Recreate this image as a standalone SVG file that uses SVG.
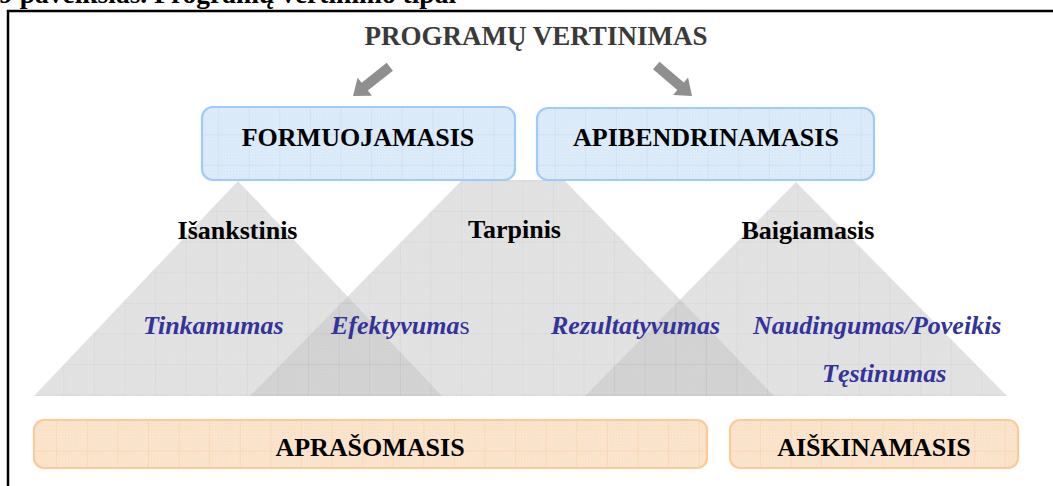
<svg xmlns="http://www.w3.org/2000/svg" width="1053" height="486" viewBox="0 0 1053 486">
  <defs>
    <style>
      .caption { font: bold 27.5px "Liberation Serif", "Times New Roman", serif; fill: #000; }
      .title { font: bold 27px "Liberation Serif", "Times New Roman", serif; fill: #3a3a3a; text-anchor: middle; }
      .label { font: bold 26px "Liberation Serif", "Times New Roman", serif; fill: #000; text-anchor: middle; }
      .crit { font: italic bold 26px "Liberation Serif", "Times New Roman", serif; fill: #333399; }
      .blue { fill: url(#gridBlue); stroke: #9fcbf6; stroke-width: 2.2; }
      .orange { fill: url(#gridOrange); stroke: #fdc996; stroke-width: 2.2; }
      .pyramid { fill: url(#gridGrey); opacity: 0.5; }
      .arrow { fill: #8f8f8f; }
    </style>
    <!-- fine dithered texture -->
    <pattern id="dots" width="3" height="3" patternUnits="userSpaceOnUse">
      <rect x="0" y="0" width="1" height="1" fill="#000" fill-opacity="0.06"/>
      <rect x="1.5" y="1.5" width="1" height="1" fill="#000" fill-opacity="0.04"/>
    </pattern>
    <!-- coarse grid fills -->
    <pattern id="gridGrey" x="2.1" y="27.5" width="30.6" height="30.6" patternUnits="userSpaceOnUse">
      <rect width="30.6" height="30.6" fill="#c6c6c6"/>
      <rect width="30.6" height="30.6" fill="url(#dots)"/>
      <path d="M0 0V30.6M0 0H30.6" stroke="#a9a9a9" stroke-width="1" fill="none"/>
    </pattern>
    <pattern id="gridBlue" x="4" y="12" width="30.6" height="30.6" patternUnits="userSpaceOnUse">
      <rect width="30.6" height="30.6" fill="#deedfc"/>
      <rect width="30.6" height="30.6" fill="url(#dots)"/>
      <path d="M0 0V30.6M0 0H30.6" stroke="#c3dbf3" stroke-width="1" fill="none"/>
    </pattern>
    <pattern id="gridOrange" x="25.6" y="22.3" width="30.6" height="30.6" patternUnits="userSpaceOnUse">
      <rect width="30.6" height="30.6" fill="#fde6cd"/>
      <rect width="30.6" height="30.6" fill="url(#dots)"/>
      <path d="M0 0V30.6M0 0H30.6" stroke="#fccfa3" stroke-width="1" fill="none"/>
    </pattern>
    <!-- block arrow pointing along +x, tip at the origin -->
    <path id="blockArrow" d="M-47 -5 L-15 -5 L-15 -11.5 L0 0 L-15 11.5 L-15 5 L-47 5 Z"/>
  </defs>

  <rect width="1053" height="486" fill="#fff"/>

  <!-- caption and frame -->
  <text class="caption" x="-1" y="3">9 paveikslas. Programų vertinimo tipai</text>
  <rect x="8" y="11" width="1060" height="500" fill="none" stroke="#000" stroke-width="2.5"/>

  <!-- evaluation stages -->
  <g id="stage-isankstinis">
    <polygon class="pyramid" points="238,181 442,396 34,396"/>
  </g>
  <g id="stage-tarpinis">
    <polygon class="pyramid" points="462,180 564,180 774,396 250,396"/>
  </g>
  <g id="stage-baigiamasis">
    <polygon class="pyramid" points="796,182 1007,396 585,396"/>
  </g>

  <g id="title">
    <text class="title" x="536" y="45">PROGRAMŲ VERTINIMAS</text>
  </g>

  <g id="connectors">
    <use href="#blockArrow" class="arrow" transform="translate(353,96) rotate(141.5)"/>
    <use href="#blockArrow" class="arrow" transform="translate(692,96) rotate(40.5)"/>
  </g>

  <g id="formuojamasis">
    <rect class="blue" x="202" y="107" width="313" height="73" rx="11"/>
    <text class="label" x="358" y="146">FORMUOJAMASIS</text>
  </g>
  <g id="apibendrinamasis">
    <rect class="blue" x="537" y="108" width="337" height="72" rx="11"/>
    <text class="label" x="706" y="146">APIBENDRINAMASIS</text>
  </g>

  <g id="stage-labels">
    <text class="label" x="237.5" y="239">Išankstinis</text>
    <text class="label" x="514.5" y="238">Tarpinis</text>
    <text class="label" x="808" y="239">Baigiamasis</text>
  </g>

  <g id="criteria">
    <text class="crit" x="143" y="334">Tinkamumas</text>
    <text class="crit" x="331" y="334">Efektyvuma<tspan font-style="normal" font-weight="normal">s</tspan></text>
    <text class="crit" x="551" y="334">Rezultatyvumas</text>
    <text class="crit" x="753" y="334">Naudingumas/Poveikis</text>
    <text class="crit" x="822" y="382">Tęstinumas</text>
  </g>

  <g id="aprasomasis">
    <rect class="orange" x="34" y="420" width="673" height="48" rx="10"/>
    <text class="label" x="370" y="456">APRAŠOMASIS</text>
  </g>
  <g id="aiskinamasis">
    <rect class="orange" x="730" y="420" width="288" height="48" rx="10"/>
    <text class="label" x="874" y="456">AIŠKINAMASIS</text>
  </g>
</svg>
